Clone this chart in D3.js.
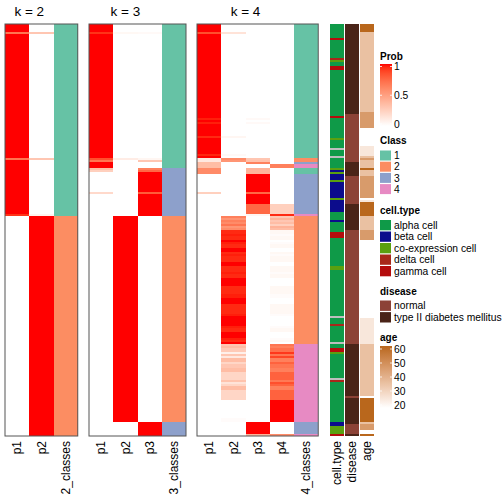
<!DOCTYPE html>
<html><head><meta charset="utf-8">
<script src="https://cdn.jsdelivr.net/npm/d3@7"></script>
<style>
body{margin:0;background:#fff}
svg{display:block}
text{font-family:"Liberation Sans",Arial,Helvetica,sans-serif;fill:#000}
</style>
</head><body>
<svg id="chart" width="504" height="504"></svg>
<script>
// ---------- DATA (run-length encoded per sample: [value, count]) ----------
const nSamples = 206;

const k2_p1 = [[1,4],[0.7,1],[1,62],[0.7,1],[1,27],[0.93,1],[0,110]];
const k2_p2 = [[0,4],[0.3,1],[0,62],[0.3,1],[0,27],[0.06,1],[1,110]];
const k2_class = [[1,96],[2,110]];

const k3_p1 = [[1,4],[0.93,1],[1,62],[0.85,1],[0.7,1],[1,3],[0.35,1],[0.25,1],[0,10],[0.2,1],[0,121]];
const k3_p2 = [[0,4],[0.04,1],[0,62],[0.1,1],[0,28],[1,103],[0,7]];
const k3_p3 = [[0,4],[0.03,1],[0,62],[0.05,1],[0.3,1],[0,3],[0.65,1],[0.75,1],[1,10],[0.8,1],[1,11],[0,103],[1,7]];
const k3_class = [[1,72],[3,24],[2,103],[3,7]];

const k4_p1 = [[1,4],[0.85,1],[1,42],[0.97,1],[1,1],[0.97,1],[1,6],[0.95,1],[1,8],[0.96,1],[1,1],[0.12,1],[0.12,1],[0.35,3],[0.6,3],[0,9],[0.25,1],[0,121]];
const k4_p2_head = [[0,4],[0.15,1],[0,51],[0.05,1],[0,8],[0.03,1],[0,1],[0.6,1],[0.55,1],[0,27]];
const k4_p2_tail = [
  0.65,0.55,0.65,0.6,0.7,0.55,0.6,
  0.95,0.95,0.97,0.95,0.95,1,0.97,0.95,0.95,1,
  1,0.95,0.97,0.95,0.95,0.95,1,1,0.95,0.95,
  0.95,0.97,0.95,0.95,1,1,1,1,0.95,0.95,
  0.95,0.95,0.97,0.97,1,1,1,0.95,0.95,0.95,
  0.95,0.95,0.97,1,1,1,1,1,0.97,0.95,
  0.95,1,1,1,0.97,0.95,1,
  0.3,0.35,0.28,0.28,0.08,0.3,0.12,0.35,0.35,0.22,
  0.3,0.3,0.35,0.35,0.22,0.22,0.22,0.22,0.32,0.15,
  0.22,0.35,0.35,0.22,0.22,0.22,0.22,0.22,
  0,0,0,0,0,0,0,0,0,0.02,0.02,
  0,0,0,0,0,0,0];
const k4_p3 = [[0,47],[0.03,1],[0,1],[0.03,1],[0,17],[0.3,1],[0.33,1],[0.65,1],[0,2],[0.4,3],[1,9],[0.75,1],[1,5],[0.75,5],[0.05,1],[0,103],[1,6],[0.4,1]];
const k4_p4_head = [[0,70],[0.65,2],[0,18],[0.25,5],[0.95,1]];
const k4_p4_tail = [
  0.3,0.4,0.3,0.35,0.25,0.4,0.35,
  0.04,0.04,0.02,0.04,0.04,0,0.02,0.04,0.04,0,
  0,0.04,0.02,0.04,0.04,0.04,0,0,0.04,0.04,
  0.04,0.02,0.04,0.04,0,0,0,0,0.04,0.04,
  0.04,0.04,0.02,0.02,0,0,0,0.04,0.04,0.04,
  0.04,0.04,0.02,0,0,0,0,0,0.02,0.04,
  0.04,0,0,0,0.02,0.04,0,
  0.7,0.65,0.72,0.72,0.92,0.7,0.88,0.65,0.65,0.78,
  0.7,0.7,0.65,0.65,0.78,0.78,0.78,0.78,0.68,0.85,
  0.78,0.65,0.65,0.78,0.78,0.78,0.78,0.78,
  1,1,1,1,1,1,1,1,1,1,1,
  0,0,0,0,0,0,
  0.6];
const k4_class = [[1,67],[2,2],[3,1],[4,2],[1,3],[3,20],[4,1],[2,64],[4,39],[3,6],[4,1]];

const cellType = [["alpha cell",7],["gamma cell",1],["alpha cell",9],["delta cell",1],["co-expression cell",1],["alpha cell",2],["gamma cell",2],["alpha cell",23],["gamma cell",1],["alpha cell",10],["co-expression cell",1],["alpha cell",4],[null,1],["alpha cell",3],[null,1],["alpha cell",5],["co-expression cell",1],["beta cell",1],["co-expression cell",1],["beta cell",3],["co-expression cell",1],["beta cell",8],["co-expression cell",1],["beta cell",6],["alpha cell",4],["beta cell",1],["alpha cell",5],["gamma cell",3],["alpha cell",14],["co-expression cell",2],["alpha cell",23],[null,1],["alpha cell",3],["delta cell",1],["alpha cell",8],[null,1],["alpha cell",2],["gamma cell",2],["co-expression cell",1],["alpha cell",12],[null,1],["delta cell",1],["alpha cell",20],["beta cell",2],["co-expression cell",4],["gamma cell",1]];
const disease = [["T2D",45],["normal",24],["T2D",7],["normal",14],["T2D",13],["normal",57],["T2D",26],["normal",1],["T2D",13],["normal",5],["T2D",1]];
const age = [[60,4],[36,40],[46,8],[20,9],[26,5],[36,1],[46,1],[36,4],[60,1],[36,3],[46,11],[20,1],[26,1],[60,7],[36,7],[46,5],[20,39],[26,13],[36,26],[20,1],[60,12],[36,1],[46,3],[20,2],[60,1]];

const classLevels = ["1","2","3","4"];
const cellTypeLevels = ["alpha cell","beta cell","co-expression cell","delta cell","gamma cell"];
const diseaseLevels = ["normal","type II diabetes mellitus"];
const probTicks = [1, 0.5, 0];
const ageTicks = [60, 50, 40, 30, 20];

// ---------- helpers ----------
const expand = r => r.flatMap(([v, n]) => Array(n).fill(v));
const rows = d3.range(nSamples);

const panels = [
  {title:"k = 2", cols:[["p1",expand(k2_p1)],["p2",expand(k2_p2)]], cls:expand(k2_class), clsName:"2_classes", x0:5},
  {title:"k = 3", cols:[["p1",expand(k3_p1)],["p2",expand(k3_p2)],["p3",expand(k3_p3)]], cls:expand(k3_class), clsName:"3_classes", x0:89},
  {title:"k = 4", cols:[["p1",expand(k4_p1)],["p2",expand(k4_p2_head).concat(k4_p2_tail)],["p3",expand(k4_p3)],["p4",expand(k4_p4_head).concat(k4_p4_tail)]], cls:expand(k4_class), clsName:"4_classes", x0:197}
];

// ---------- scales ----------
const TOP = 24, BOT = 436, CW = 24.25;
const y = d3.scaleBand().domain(rows).range([TOP, BOT]);
const probColor = d3.scaleLinear().domain([0,1]).range(["#ffffff","#ff0000"]).interpolate(d3.interpolateLab);
const classColor = d3.scaleOrdinal().domain(classLevels).range(["#66c2a5","#fc8d62","#8da0cb","#e78ac3"]);
const ctColor = d3.scaleOrdinal().domain(cellTypeLevels).range(["#0f9a48","#0c0c8c","#5aa010","#a8281a","#b40c0c"]);
const disColor = d3.scaleOrdinal().domain(["normal","T2D"]).range(["#8c4236","#4a2418"]);
const ageColor = d3.scaleLinear().domain([20,60]).range(["#ffffff","#b9671c"]).interpolate(d3.interpolateLab);

const svg = d3.select("#chart");
const g = svg.append("g");

panels.forEach(p => {
  const names = p.cols.map(c => c[0]).concat([p.clsName]);
  const x = d3.scaleBand().domain(names).range([p.x0, p.x0 + CW * names.length]);
  const pg = g.append("g").attr("shape-rendering","crispEdges");
  p.cols.forEach(([name, vals]) => {
    pg.selectAll(null).data(rows).join("rect")
      .attr("x", x(name)).attr("width", x.bandwidth())
      .attr("y", i => y(i)).attr("height", y.bandwidth())
      .attr("fill", i => probColor(vals[i]));
  });
  pg.selectAll(null).data(rows).join("rect")
    .attr("x", x(p.clsName)).attr("width", x.bandwidth())
    .attr("y", i => y(i)).attr("height", y.bandwidth())
    .attr("fill", i => classColor(String(p.cls[i])));
  // border
  g.append("rect").attr("x", p.x0).attr("y", TOP)
    .attr("width", CW * names.length).attr("height", BOT - TOP)
    .attr("fill","none").attr("stroke","#555").attr("stroke-width",1);
  // title centered over probability columns
  const pEnd = x(names[names.length-2]) + x.bandwidth();
  g.append("text").attr("x", (p.x0 + pEnd)/2).attr("y", 16)
    .attr("text-anchor","middle").style("font-size","13.5px").text(p.title);
  // column labels
  names.forEach(n => {
    g.append("text")
      .attr("transform", `translate(${x(n) + x.bandwidth()/2},441) rotate(-90)`)
      .attr("text-anchor","end").attr("dy","0.35em")
      .style("font-size","12px").text(n);
  });
});

// ---------- annotations ----------
const annos = [
  {name:"cell.type", vals:expand(cellType), color:v => v == null ? "#bebebe" : ctColor(v), x0:330},
  {name:"disease", vals:expand(disease), color:v => disColor(v), x0:345},
  {name:"age", vals:expand(age), color:v => ageColor(v), x0:360}
];
annos.forEach(a => {
  g.append("g").attr("shape-rendering","crispEdges")
    .selectAll("rect").data(rows).join("rect")
    .attr("x", a.x0).attr("width", 14)
    .attr("y", i => y(i)).attr("height", y.bandwidth())
    .attr("fill", i => a.color(a.vals[i]));
  g.append("text")
    .attr("transform", `translate(${a.x0 + 7},441) rotate(-90)`)
    .attr("text-anchor","end").attr("dy","0.35em")
    .style("font-size","12px").text(a.name);
});

// ---------- legends ----------
const LX = 380, LBL = 394;
const defs = svg.append("defs");
function gradLegend(id, title, titleY, y0, y1, scale, ticks, tickY, color) {
  g.append("text").attr("x", LX).attr("y", titleY).style("font-size","10px").style("font-weight","bold").text(title);
  const gr = defs.append("linearGradient").attr("id", id).attr("x1",0).attr("x2",0).attr("y1",0).attr("y2",1);
  d3.range(0, 1.0001, 0.05).forEach(t => {
    const v = scale.domain()[1] + (scale.domain()[0] - scale.domain()[1]) * t;
    gr.append("stop").attr("offset", t).attr("stop-color", scale(v));
  });
  g.append("rect").attr("x", LX).attr("y", y0).attr("width", 12).attr("height", y1 - y0).attr("fill", `url(#${id})`);
  ticks.forEach(tv => {
    const ty = tickY(tv);
    g.append("line").attr("x1", LX).attr("x2", LX + 2).attr("y1", ty).attr("y2", ty).attr("stroke","#fff").attr("stroke-width",0.8);
    g.append("line").attr("x1", LX + 10).attr("x2", LX + 12).attr("y1", ty).attr("y2", ty).attr("stroke","#fff").attr("stroke-width",0.8);
    g.append("text").attr("x", LBL).attr("y", ty).attr("dy","0.35em").style("font-size","10.3px").text(String(tv));
  });
}
const probY = d3.scaleLinear().domain([1,0]).range([66.5,124]);
gradLegend("gProb", "Prob", 60, 64, 126, d3.scaleLinear().domain([0,1]).range(["#ffffff","#ff0000"]).interpolate(d3.interpolateLab), probTicks, probY);

function discLegend(title, titleY, y0, step, levels, color) {
  g.append("text").attr("x", LX).attr("y", titleY).style("font-size","10px").style("font-weight","bold").text(title);
  levels.forEach((lv, i) => {
    g.append("rect").attr("x", LX).attr("y", y0 + i*step).attr("width", 11).attr("height", step - 1.2).attr("fill", color(lv));
    g.append("text").attr("x", LBL).attr("y", y0 + i*step + (step-1.2)/2).attr("dy","0.35em").style("font-size","10.3px").text(lv);
  });
}
discLegend("Class", 144, 150.5, 11.2, classLevels, classColor);
discLegend("cell.type", 214, 220, 11.5, cellTypeLevels, ctColor);
discLegend("disease", 295, 300.5, 11.6, diseaseLevels, v => v === "normal" ? disColor("normal") : disColor("T2D"));

const ageY = d3.scaleLinear().domain([60,20]).range([349,405]);
gradLegend("gAge", "age", 341, 346, 408, ageColor, ageTicks, ageY);
</script>
</body></html>
